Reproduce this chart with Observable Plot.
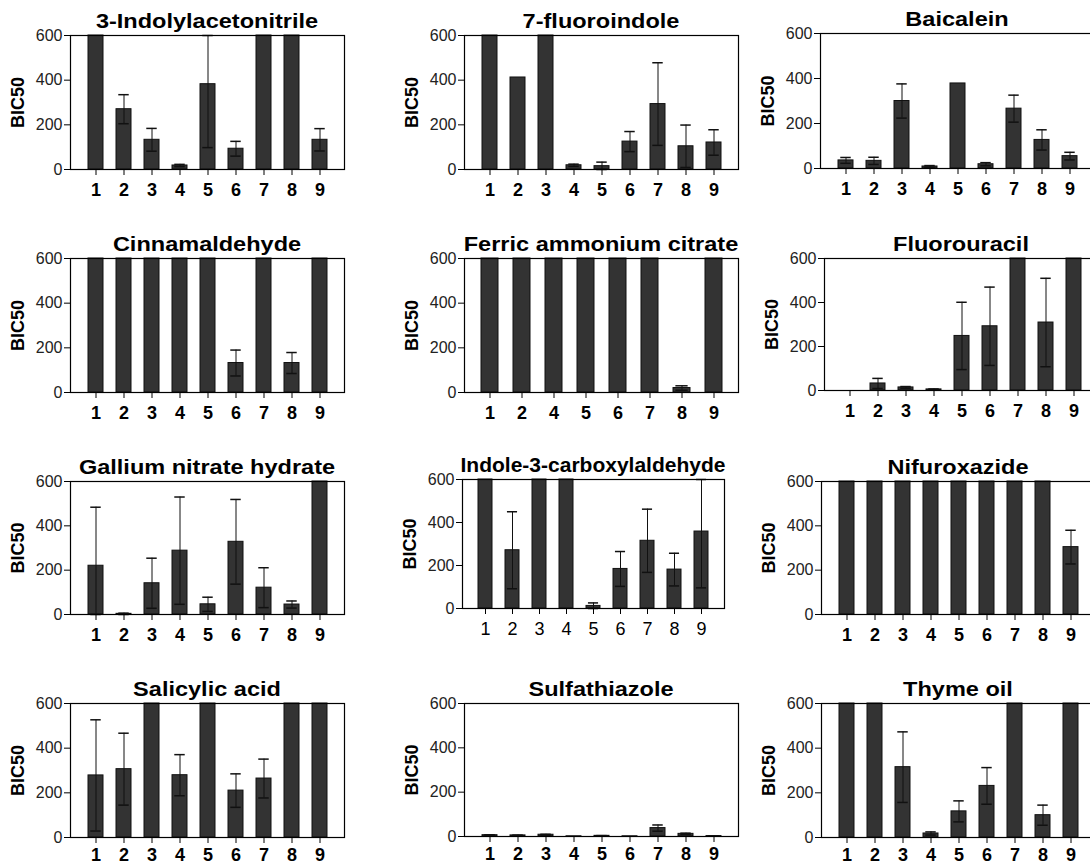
<!DOCTYPE html>
<html><head><meta charset="utf-8">
<script src="https://cdn.jsdelivr.net/npm/d3@7"></script>
<script src="https://cdn.jsdelivr.net/npm/@observablehq/plot@0.6"></script>
<style>
body{margin:0;background:#fff;}
#root{position:relative;width:1090px;height:866px;overflow:hidden;background:#fff;font-family:"Liberation Sans",Arial,sans-serif;}
#root svg{position:absolute;display:block;overflow:visible;}
.title{position:absolute;font-weight:bold;font-size:21px;line-height:22px;text-align:center;white-space:nowrap;color:#000;transform-origin:center;}
</style></head><body><div id="root"></div>
<script>
// ---- data ----
const panelTitles = ["3-Indolylacetonitrile","7-fluoroindole","Baicalein","Cinnamaldehyde","Ferric ammonium citrate","Fluorouracil","Gallium nitrate hydrate","Indole-3-carboxylaldehyde","Nifuroxazide","Salicylic acid","Sulfathiazole","Thyme oil"];
const allNine = [1,2,3,4,5,6,7,8,9];
const ferricCats = [1,2,4,5,6,7,8,9];
const categories = [allNine,allNine,allNine,allNine,ferricCats,allNine,allNine,allNine,allNine,allNine,allNine,allNine];
const bic50 = [
  [600,270,133,18,382,93,600,600,133],
  [600,412,600,19,15,125,293,104,121],
  [36,34,300,9,378,19,266,127,55],
  [600,600,600,600,600,132,600,132,600],
  [600,600,600,600,600,600,20,600],
  [0,32,14,5,248,292,600,309,600],
  [220,3,141,288,46,328,121,45,600],
  [600,271,600,600,12,184,315,181,358],
  [600,600,600,600,600,600,600,600,304],
  [278,306,600,279,600,210,264,600,600],
  [6,5,8,1,3,1,38,12,2],
  [600,600,315,18,117,231,600,100,600]
];
const errorBars = [
  [0,65,51,5,284,33,0,0,50],
  [0,0,0,5,18,45,185,95,57],
  [13,16,76,4,0,7,60,45,17],
  [0,0,0,0,0,58,0,47,0],
  [0,0,0,0,0,0,10,0],
  [0,23,4,2,153,178,0,201,0],
  [264,3,113,242,32,191,90,16,0],
  [0,179,0,0,14,81,147,76,262],
  [0,0,0,0,0,0,0,0,76],
  [249,161,0,92,0,75,87,0,0],
  [2,1,2,0,1,0,14,3,1],
  [0,0,158,7,47,82,0,45,0]
];
const yTicks = [0,200,400,600];

// ---- layout (frame positions in page px) ----
const layout = [
  {left:70, top:35, bottom:169, w:274, pad:8, tscale:1.12},
  {left:464, top:35, bottom:169, w:274, pad:8, tscale:1.12},
  {left:820, top:33, bottom:168, w:274, pad:8, tscale:1.12},
  {left:70, top:258, bottom:392, w:274, pad:8, tscale:1.12},
  {left:464, top:258, bottom:392, w:274, pad:8, tscale:1.12},
  {left:824, top:258, bottom:390, w:274, pad:8, tscale:1.12},
  {left:70, top:481, bottom:614, w:274, pad:8, tscale:1.12},
  {left:462, top:479, bottom:608, w:262, pad:8, tscale:1.0},
  {left:821, top:481, bottom:614, w:274, pad:8, tscale:1.12},
  {left:70, top:703, bottom:837, w:274, pad:5, tscale:1.12},
  {left:464, top:703, bottom:836, w:274, pad:5, tscale:1.12},
  {left:821, top:703, bottom:837, w:274, pad:5, tscale:1.12}
];
const boldTicks = [true,true,true,true,true,true,true,false,true,true,true,true];

const root = document.getElementById("root");
const mL = 66, mR = 8, mT = 6, mB = 30;

panelTitles.forEach((t, i) => {
  const L = layout[i];
  const H = L.bottom - L.top;
  const rows = categories[i].map((c, j) => ({cat: String(c), v: bic50[i][j], e: errorBars[i][j]}));
  const errs = rows.filter(d => d.e > 0);
  const bw = L.w / rows.length;
  const capInset = (bw - 5) / 2;
  const svg = Plot.plot({
    width: mL + L.w + mR,
    height: mT + H + mB,
    marginLeft: mL, marginRight: mR, marginTop: mT, marginBottom: mB,
    style: {fontFamily: '"Liberation Sans", Arial, sans-serif', background: "transparent", color: "#222", fontSize: "16px", overflow: "visible"},
    x: {domain: rows.map(d => d.cat), padding: 0.47, axis: null},
    y: {domain: [0, 600], clamp: true, axis: null},
    marks: [
      Plot.barY(rows, {x: "cat", y: "v", fill: "#333", stroke: "#111", strokeWidth: 1}),
      Plot.ruleX(errs, {x: "cat", y1: d => d.v - d.e, y2: d => d.v + d.e, stroke: "#111", strokeWidth: 1}),
      Plot.tickY(errs, {x: "cat", y: d => d.v + d.e, insetLeft: capInset, insetRight: capInset, stroke: "#111", strokeWidth: 1.5}),
      Plot.tickY(errs, {x: "cat", y: d => d.v - d.e, insetLeft: capInset, insetRight: capInset, stroke: "#111", strokeWidth: 1.5}),
      Plot.frame({stroke: "#000", strokeWidth: 1.2}),
      Plot.axisY({ticks: yTicks, tickSize: 6, tickPadding: 2, fontSize: 16, label: null, stroke: "#000", fill: "#222"}),
      Plot.axisX({tickSize: 6, tickPadding: L.pad, fontSize: 18, fontWeight: boldTicks[i] ? "bold" : "normal", label: null, stroke: "#000", fill: "#000"}),
      Plot.text(["BIC50"], {text: d => d, frameAnchor: "left", textAnchor: "middle", dx: -52, rotate: -90, fontWeight: "bold", fontSize: 18, fill: "#000"})
    ]
  });
  svg.style.left = (L.left - mL) + "px";
  svg.style.top = (L.top - mT) + "px";
  root.appendChild(svg);

  const title = document.createElement("div");
  title.className = "title";
  title.textContent = t;
  title.style.left = (L.left + L.w / 2 - 200) + "px";
  title.style.width = "400px";
  title.style.top = (L.top - 25) + "px";
  title.style.transform = "scaleX(" + L.tscale + ")";
  root.appendChild(title);
});
</script>
</body></html>
